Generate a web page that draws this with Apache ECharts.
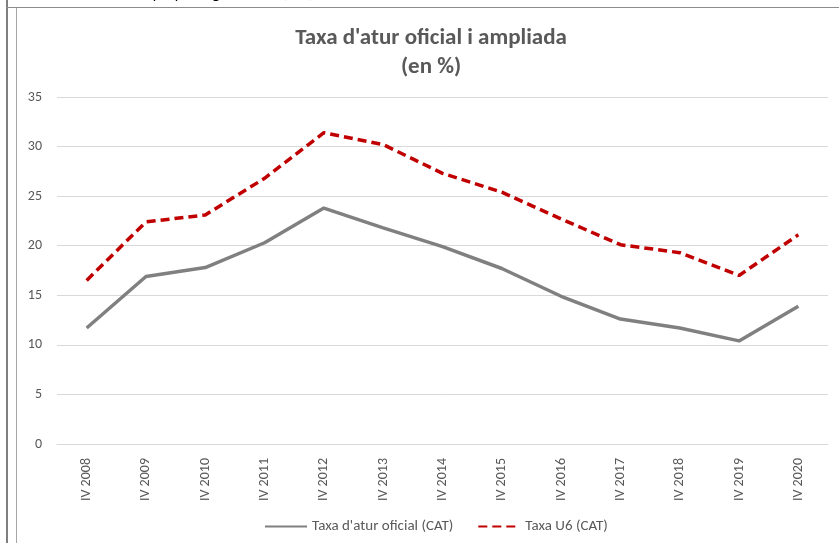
<!DOCTYPE html>
<html>
<head>
<meta charset="utf-8">
<title>Taxa d'atur oficial i ampliada</title>
<script src="https://cdn.jsdelivr.net/npm/echarts@6/dist/echarts.min.js"></script>
<style>
    html, body { margin: 0; padding: 0; background: #fff; }
    #chart { width: 839px; height: 543px; }
</style>
</head>
<body>
<div id="chart"></div>
<script>
// trimestres (IV de cada any)
var categories = ["IV 2008", "IV 2009", "IV 2010", "IV 2011", "IV 2012", "IV 2013", "IV 2014",
    "IV 2015", "IV 2016", "IV 2017", "IV 2018", "IV 2019", "IV 2020"];
// taxa d'atur oficial
var oficial = [11.7, 16.9, 17.8, 20.3, 23.8, 21.8, 19.9, 17.7, 14.9, 12.6, 11.7, 10.4, 13.9];
// taxa U6 ampliada
var u6 = [16.5, 22.4, 23.1, 26.8, 31.4, 30.2, 27.3, 25.4, 22.7, 20.1, 19.3, 17.0, 21.1];
var seriesNames = ["Taxa d'atur oficial (CAT)", "Taxa U6 (CAT)"];
var titleLines = ["Taxa d'atur oficial i ampliada", "(en %)"];

var font = "Carlito, 'Open Sans', 'Noto Sans', sans-serif";
var grey = "#595959";

var myChart = echarts.init(document.getElementById("chart"));

var option = {
    backgroundColor: "#fff",
    animation: false,
    graphic: [
        // font, tallada a dalt (nomes es veuen els descendents)
        {type: "text", x: 45, y: 2, style: {
            text: "Font: elaboració pròpia segons l'EPA (INE)", fill: "#000",
            font: "italic 16px " + font, verticalAlign: "bottom"}},
        // marc exterior
        {type: "rect", shape: {x: 6, y: 0, width: 2, height: 543}, style: {fill: "#7f7f7f"}},
        {type: "rect", shape: {x: 6, y: 7, width: 833, height: 1}, style: {fill: "#8c8c8c"}},
        {type: "rect", shape: {x: 16, y: 8, width: 1, height: 535}, style: {fill: "#a6a6a6"}},
        // titol
        {type: "text", x: 431, y: 38, style: {text: titleLines[0], fill: grey,
            font: "bold 23px " + font, align: "center", verticalAlign: "middle"}},
        {type: "text", x: 431, y: 67, style: {text: titleLines[1], fill: grey,
            font: "bold 23px " + font, align: "center", verticalAlign: "middle"}}
    ],
    legend: {
        left: 259,
        top: 514,
        itemWidth: 42,
        itemHeight: 12,
        itemGap: 24,
        itemStyle: {opacity: 0},
        textStyle: {color: grey, fontSize: 15, fontFamily: font},
        data: seriesNames
    },
    grid: {left: 57, right: 11, top: 97, bottom: 99},
    xAxis: {
        type: "category",
        data: categories,
        boundaryGap: true,
        axisLine: {lineStyle: {color: "#d9d9d9"}},
        axisTick: {show: false},
        axisLabel: {rotate: 90, margin: 14, color: grey, fontSize: 14, fontFamily: font}
    },
    yAxis: {
        type: "value",
        min: 0,
        max: 35,
        interval: 5,
        axisLine: {show: false},
        axisTick: {show: false},
        splitLine: {lineStyle: {color: "#d9d9d9"}},
        axisLabel: {margin: 15, color: grey, fontSize: 14, fontFamily: font}
    },
    series: [
        {
            name: seriesNames[0],
            type: "line",
            data: oficial,
            symbol: "none",
            color: "#808080",
            lineStyle: {width: 3.5, color: "#808080"}
        },
        {
            name: seriesNames[1],
            type: "line",
            data: u6,
            symbol: "none",
            color: "#c00000",
            lineStyle: {width: 3.5, color: "#c00000", type: [9, 5]}
        }
    ]
};
myChart.setOption(option);
</script>
</body>
</html>
